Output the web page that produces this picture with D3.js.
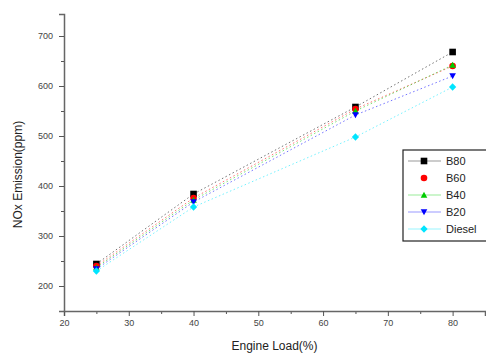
<!DOCTYPE html>
<html>
<head>
<meta charset="utf-8">
<script src="https://cdn.jsdelivr.net/npm/d3@7"></script>
<style>
  body { margin: 0; background: #fff; }
  svg { display: block; font-family: "Liberation Sans", Arial, sans-serif; }
</style>
</head>
<body>
<div id="chart"></div>
<script>
const loads = [25, 40, 65, 80];
const seriesNames = ["B80", "B60", "B40", "B20", "Diesel"];
const b80 = [244, 384, 558, 668];
const b60 = [240, 376, 554, 640];
const b40 = [237, 372, 550, 642];
const b20 = [234, 368, 542, 620];
const diesel = [230, 358, 498, 598];
const colors = ["#000000", "#ff0000", "#00cc00", "#0000ff", "#00e5ff"];
const symbols = ["square", "circle", "up", "down", "diamond"];
const xTicks = [20, 30, 40, 50, 60, 70, 80];
const yTicks = [200, 300, 400, 500, 600, 700];

const allSeries = [b80, b60, b40, b20, diesel];

const width = 486, height = 354;
const margin = { top: 14, right: 1, bottom: 43, left: 64 };
const innerW = width - margin.left - margin.right;
const innerH = height - margin.top - margin.bottom;

const svg = d3.select("#chart").append("svg")
    .attr("width", width)
    .attr("height", height);

const g = svg.append("g")
    .attr("transform", `translate(${margin.left},${margin.top})`);

const x = d3.scaleLinear().domain([20, 85]).range([0, innerW]);
const y = d3.scaleLinear().domain([150, 744]).range([innerH, 0]);

// minor ticks
g.append("g")
    .attr("transform", `translate(0,${innerH})`)
    .call(d3.axisBottom(x).tickValues([25, 35, 45, 55, 65, 75, 85]).tickSize(3).tickFormat(""))
    .call(a => a.select(".domain").remove())
    .selectAll("line").attr("stroke", "#555");
g.append("g")
    .call(d3.axisLeft(y).tickValues([250, 350, 450, 550, 650]).tickSize(3).tickFormat(""))
    .call(a => a.select(".domain").remove())
    .selectAll("line").attr("stroke", "#555");

const xAxis = g.append("g")
    .attr("transform", `translate(0,${innerH})`)
    .call(d3.axisBottom(x).tickValues(xTicks).tickSize(5).tickPadding(4));
const yAxis = g.append("g")
    .call(d3.axisLeft(y).tickValues(yTicks).tickSize(5).tickPadding(6));

[xAxis, yAxis].forEach(a => {
    a.select(".domain").attr("stroke", "#666").attr("stroke-width", 1.5);
    a.selectAll("line").attr("stroke", "#555");
    a.selectAll("text").attr("font-size", 9).attr("fill", "#444")
        .attr("font-family", "Liberation Sans, Arial, sans-serif");
});

// lines
const line = d3.line().x((d, i) => x(loads[i])).y(d => y(d));
allSeries.forEach((vals, k) => {
    g.append("path")
        .datum(vals)
        .attr("fill", "none")
        .attr("stroke", colors[k])
        .attr("stroke-opacity", 0.55)
        .attr("stroke-width", 1)
        .attr("stroke-dasharray", "1.5,2.5")
        .attr("d", line);
});

// marker shapes, r = half size
function shape(kind, r) {
    const p = d3.path();
    if (kind === "square") {
        p.rect(-r, -r, 2 * r, 2 * r);
    } else if (kind === "circle") {
        p.arc(0, 0, r, 0, 2 * Math.PI);
    } else if (kind === "up") {
        p.moveTo(0, -r); p.lineTo(r, r * 0.8); p.lineTo(-r, r * 0.8); p.closePath();
    } else if (kind === "down") {
        p.moveTo(0, r); p.lineTo(r, -r * 0.8); p.lineTo(-r, -r * 0.8); p.closePath();
    } else {
        p.moveTo(0, -r * 1.1); p.lineTo(r * 1.1, 0); p.lineTo(0, r * 1.1); p.lineTo(-r * 1.1, 0); p.closePath();
    }
    return p.toString();
}

allSeries.forEach((vals, k) => {
    g.selectAll(null)
        .data(vals)
        .enter().append("path")
        .attr("transform", (d, i) => `translate(${x(loads[i])},${y(d)})`)
        .attr("fill", colors[k])
        .attr("d", shape(symbols[k], 3.3));
});

// axis titles
svg.append("text")
    .attr("x", margin.left + innerW / 2)
    .attr("y", 350)
    .attr("text-anchor", "middle")
    .attr("font-size", 12)
    .attr("fill", "#222")
    .text("Engine Load(%)");

svg.append("text")
    .attr("transform", `translate(22,${margin.top + innerH / 2 + 12}) rotate(-90)`)
    .attr("text-anchor", "middle")
    .attr("font-size", 12)
    .attr("fill", "#222")
    .text("NOx Emission(ppm)");

// legend
const legend = svg.append("g").attr("transform", "translate(403,150)");
legend.append("rect")
    .attr("width", 90).attr("height", 91)
    .attr("fill", "#fff").attr("stroke", "#222").attr("stroke-width", 1.2);
seriesNames.forEach((name, k) => {
    const row = legend.append("g").attr("transform", `translate(0,${11 + k * 17})`);
    if (k !== 1) {
        row.append("line")
            .attr("x1", 5).attr("x2", 38)
            .attr("stroke", colors[k]).attr("stroke-opacity", 0.4);
    }
    row.append("path")
        .attr("transform", "translate(21,0)")
        .attr("fill", colors[k])
        .attr("d", shape(symbols[k], 3.3));
    row.append("text")
        .attr("x", 43).attr("y", 4)
        .attr("font-size", 11)
        .attr("fill", "#222")
        .text(name);
});
</script>
</body>
</html>
